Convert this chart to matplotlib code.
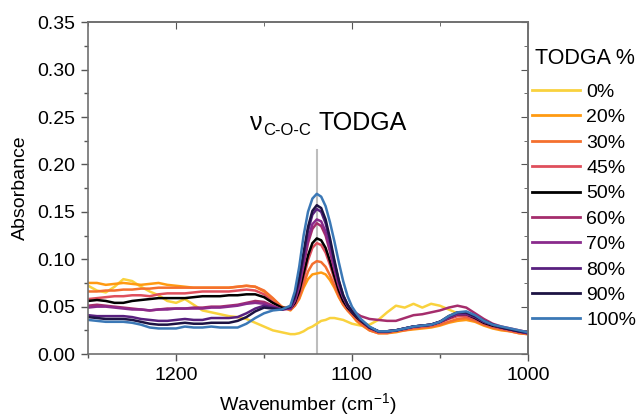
import matplotlib
matplotlib.use("Agg")
import matplotlib.pyplot as plt
from matplotlib.ticker import MultipleLocator, FormatStrFormatter

plt.rcParams['font.family'] = ['Liberation Sans', 'DejaVu Sans']
plt.rcParams['mathtext.fontset'] = 'custom'
plt.rcParams['mathtext.rm'] = 'Liberation Sans'

# wavenumber grid (cm-1), finer step across the C-O-C band
wavenumber = [1250, 1245, 1240, 1235, 1230, 1225, 1220, 1215, 1210, 1205,
              1200, 1195, 1190, 1185, 1180, 1175, 1170, 1165, 1160, 1155,
              1150, 1145, 1140, 1135, 1132.5, 1130,
              1127.5, 1125, 1122.5, 1120, 1117.5, 1115, 1112.5, 1110, 1107.5, 1105,
              1102.5, 1100, 1097.5, 1095,
              1090, 1085, 1080, 1075, 1070, 1065, 1060, 1055, 1050, 1045,
              1040, 1035, 1030, 1025, 1020, 1015, 1010, 1005, 1000]

abs_0 = [0.072, 0.067, 0.065, 0.071, 0.079, 0.077, 0.071, 0.066, 0.062, 0.056,
         0.054, 0.058, 0.052, 0.046, 0.044, 0.042, 0.040, 0.039, 0.037, 0.033,
         0.029, 0.025, 0.023, 0.021, 0.021, 0.022,
         0.024, 0.027, 0.029, 0.032, 0.035, 0.036, 0.038, 0.038, 0.037, 0.036,
         0.034, 0.032, 0.031, 0.030,
         0.031, 0.036, 0.044, 0.051, 0.049, 0.053, 0.049, 0.053, 0.051, 0.047,
         0.043, 0.039, 0.036, 0.033, 0.030, 0.028, 0.026, 0.024, 0.023]

abs_20 = [0.075, 0.075, 0.073, 0.074, 0.075, 0.074, 0.073, 0.074, 0.075, 0.073,
          0.072, 0.071, 0.070, 0.070, 0.070, 0.070, 0.070, 0.071, 0.072, 0.071,
          0.066, 0.058, 0.050, 0.046, 0.051, 0.058,
          0.070, 0.079, 0.084, 0.085, 0.086, 0.084, 0.078, 0.070, 0.060, 0.052,
          0.046, 0.041, 0.035, 0.031,
          0.025, 0.022, 0.022, 0.023, 0.025, 0.026, 0.027, 0.028, 0.030, 0.033,
          0.035, 0.036, 0.034, 0.030, 0.027, 0.025, 0.024, 0.022, 0.021]

abs_30 = [0.066, 0.066, 0.067, 0.067, 0.068, 0.068, 0.069, 0.069, 0.070, 0.070,
          0.070, 0.070, 0.070, 0.070, 0.070, 0.070, 0.070, 0.071, 0.072, 0.071,
          0.067, 0.059, 0.050, 0.047, 0.051, 0.059,
          0.073, 0.087, 0.095, 0.098, 0.097, 0.092, 0.083, 0.072, 0.061, 0.052,
          0.046, 0.041, 0.036, 0.032,
          0.025, 0.022, 0.022, 0.024, 0.025, 0.027, 0.028, 0.029, 0.031, 0.034,
          0.037, 0.038, 0.035, 0.031, 0.028, 0.026, 0.024, 0.022, 0.021]

abs_45 = [0.058, 0.059, 0.060, 0.061, 0.061, 0.062, 0.062, 0.061, 0.063, 0.064,
          0.064, 0.064, 0.065, 0.066, 0.066, 0.066, 0.066, 0.067, 0.068, 0.067,
          0.063, 0.055, 0.049, 0.047, 0.052, 0.063,
          0.080, 0.099, 0.112, 0.117, 0.115, 0.107, 0.094, 0.079, 0.065, 0.055,
          0.048, 0.043, 0.038, 0.034,
          0.027, 0.023, 0.023, 0.025, 0.026, 0.028, 0.029, 0.030, 0.033, 0.037,
          0.040, 0.040, 0.037, 0.032, 0.029, 0.027, 0.025, 0.023, 0.022]

abs_50 = [0.056, 0.057, 0.056, 0.054, 0.054, 0.056, 0.057, 0.058, 0.059, 0.059,
          0.059, 0.059, 0.060, 0.061, 0.061, 0.061, 0.062, 0.062, 0.063, 0.063,
          0.060, 0.054, 0.049, 0.048, 0.054, 0.066,
          0.085, 0.104, 0.117, 0.122, 0.120, 0.112, 0.098, 0.082, 0.067, 0.056,
          0.049, 0.044, 0.039, 0.035,
          0.028, 0.024, 0.024, 0.025, 0.027, 0.029, 0.030, 0.031, 0.034, 0.038,
          0.042, 0.042, 0.038, 0.033, 0.030, 0.028, 0.026, 0.024, 0.022]

abs_60 = [0.051, 0.052, 0.051, 0.050, 0.049, 0.048, 0.047, 0.046, 0.047, 0.048,
          0.048, 0.048, 0.049, 0.049, 0.050, 0.050, 0.051, 0.052, 0.054, 0.056,
          0.055, 0.051, 0.047, 0.048, 0.056, 0.071,
          0.094, 0.117, 0.132, 0.138, 0.135, 0.125, 0.108, 0.089, 0.072, 0.060,
          0.051, 0.046, 0.043, 0.040,
          0.037, 0.036, 0.035, 0.035, 0.038, 0.041, 0.042, 0.044, 0.046, 0.049,
          0.051, 0.049, 0.043, 0.037, 0.032, 0.029, 0.027, 0.025, 0.023]

abs_70 = [0.049, 0.050, 0.050, 0.049, 0.048, 0.047, 0.047, 0.046, 0.047, 0.047,
          0.048, 0.048, 0.048, 0.048, 0.049, 0.049, 0.050, 0.051, 0.053, 0.054,
          0.053, 0.050, 0.047, 0.048, 0.057, 0.073,
          0.097, 0.121, 0.137, 0.142, 0.140, 0.129, 0.111, 0.091, 0.073, 0.060,
          0.051, 0.045, 0.040, 0.036,
          0.028, 0.024, 0.024, 0.025, 0.027, 0.029, 0.030, 0.031, 0.034, 0.038,
          0.042, 0.042, 0.039, 0.034, 0.031, 0.028, 0.026, 0.024, 0.022]

abs_80 = [0.041, 0.040, 0.040, 0.040, 0.040, 0.039, 0.037, 0.036, 0.035, 0.035,
          0.036, 0.037, 0.036, 0.036, 0.038, 0.038, 0.038, 0.039, 0.043, 0.048,
          0.051, 0.049, 0.047, 0.049, 0.059, 0.077,
          0.103, 0.130, 0.147, 0.153, 0.150, 0.138, 0.119, 0.097, 0.077, 0.062,
          0.052, 0.045, 0.040, 0.036,
          0.028, 0.024, 0.024, 0.025, 0.027, 0.029, 0.030, 0.031, 0.034, 0.039,
          0.043, 0.043, 0.039, 0.034, 0.031, 0.028, 0.026, 0.024, 0.022]

abs_90 = [0.039, 0.038, 0.037, 0.037, 0.037, 0.036, 0.034, 0.032, 0.031, 0.031,
          0.032, 0.033, 0.032, 0.032, 0.033, 0.033, 0.033, 0.035, 0.039, 0.045,
          0.049, 0.048, 0.047, 0.050, 0.061, 0.080,
          0.107, 0.134, 0.151, 0.157, 0.154, 0.142, 0.122, 0.099, 0.078, 0.062,
          0.052, 0.045, 0.040, 0.036,
          0.028, 0.024, 0.024, 0.025, 0.027, 0.029, 0.030, 0.031, 0.034, 0.040,
          0.044, 0.044, 0.040, 0.035, 0.031, 0.028, 0.026, 0.024, 0.023]

abs_100 = [0.036, 0.035, 0.034, 0.034, 0.034, 0.033, 0.031, 0.028, 0.027, 0.027,
           0.027, 0.029, 0.028, 0.028, 0.029, 0.028, 0.028, 0.028, 0.032, 0.038,
           0.043, 0.046, 0.047, 0.051, 0.066, 0.092,
           0.125, 0.150, 0.164, 0.169, 0.166, 0.156, 0.139, 0.119, 0.097, 0.077,
           0.061, 0.050, 0.043, 0.037,
           0.029, 0.024, 0.024, 0.025, 0.027, 0.029, 0.030, 0.031, 0.034, 0.040,
           0.044, 0.045, 0.041, 0.035, 0.031, 0.029, 0.027, 0.025, 0.023]

labels = ['0%', '20%', '30%', '45%', '50%', '60%', '70%', '80%', '90%', '100%']
series = [abs_0, abs_20, abs_30, abs_45, abs_50, abs_60, abs_70, abs_80, abs_90, abs_100]
colors = ['#f9d23e', '#ff9a12', '#f4702e', '#df4f5c', '#000000',
          '#a52d6c', '#8a2a8c', '#58207f', '#1d1343', '#3b78b6']

peak_wn = 1120  # C-O-C stretch marker
marker_top = 0.215

fig, ax = plt.subplots(figsize=(6.39, 4.19), dpi=100)
fig.subplots_adjust(left=0.138, right=0.826, bottom=0.155, top=0.947)

ax.plot([peak_wn, peak_wn], [0, marker_top], color='#bdbdbd', lw=1.5, zorder=1)

for y, lab, c in zip(series, labels, colors):
    ax.plot(wavenumber, y, color=c, lw=1.8, label=lab, zorder=2)

ax.set_xlim(1250, 1000)
ax.set_ylim(0, 0.35)
ax.xaxis.set_major_locator(MultipleLocator(100))
ax.xaxis.set_minor_locator(MultipleLocator(50))
ax.yaxis.set_major_locator(MultipleLocator(0.05))
ax.yaxis.set_minor_locator(MultipleLocator(0.025))
ax.yaxis.set_major_formatter(FormatStrFormatter('%.2f'))

for sp in ax.spines.values():
    sp.set_color('#707070')
    sp.set_linewidth(1.2)
ax.tick_params(which='major', direction='out', length=5, width=1, color='#555555',
               labelsize=14, pad=4)
ax.tick_params(which='minor', direction='out', length=3, width=1, color='#555555')

# mirrored inward ticks on top and right
top = ax.secondary_xaxis('top')
top.xaxis.set_major_locator(MultipleLocator(100))
top.xaxis.set_minor_locator(MultipleLocator(50))
top.tick_params(which='major', direction='in', length=5, color='#555555', labeltop=False)
top.tick_params(which='minor', direction='in', length=3, color='#555555')
right = ax.secondary_yaxis('right')
right.yaxis.set_major_locator(MultipleLocator(0.05))
right.yaxis.set_minor_locator(MultipleLocator(0.025))
right.tick_params(which='major', direction='in', length=5, color='#555555', labelright=False)
right.tick_params(which='minor', direction='in', length=3, color='#555555')
for s in (top, right):
    for sp in s.spines.values():
        sp.set_color('#707070')
        sp.set_linewidth(1.2)

ax.set_xlabel(r'Wavenumber (cm$^{\mathregular{-1}}$)', fontsize=14, labelpad=6)
ax.set_ylabel('Absorbance', fontsize=14, labelpad=6)

# band label
ax.text(0.368, 0.675, 'ν', transform=ax.transAxes, fontsize=18, ha='left', va='baseline')
ax.text(0.397, 0.66, 'C-O-C', transform=ax.transAxes, fontsize=12, ha='left', va='baseline')
ax.text(0.523, 0.675, 'TODGA', transform=ax.transAxes, fontsize=18, ha='left', va='baseline')

# legend heading sits a bit apart from the entries
ax.text(1.016, 0.892, 'TODGA %', transform=ax.transAxes, fontsize=15.5,
        ha='left', va='center')
leg = ax.legend(loc='upper left', bbox_to_anchor=(1.0, 0.828),
                frameon=False, fontsize=14, handlelength=2.5,
                handletextpad=0.3, labelspacing=0.40, borderpad=0.2,
                borderaxespad=0)
for h in leg.get_lines():
    h.set_linewidth(2)

fig.savefig('out.png', dpi=100)
